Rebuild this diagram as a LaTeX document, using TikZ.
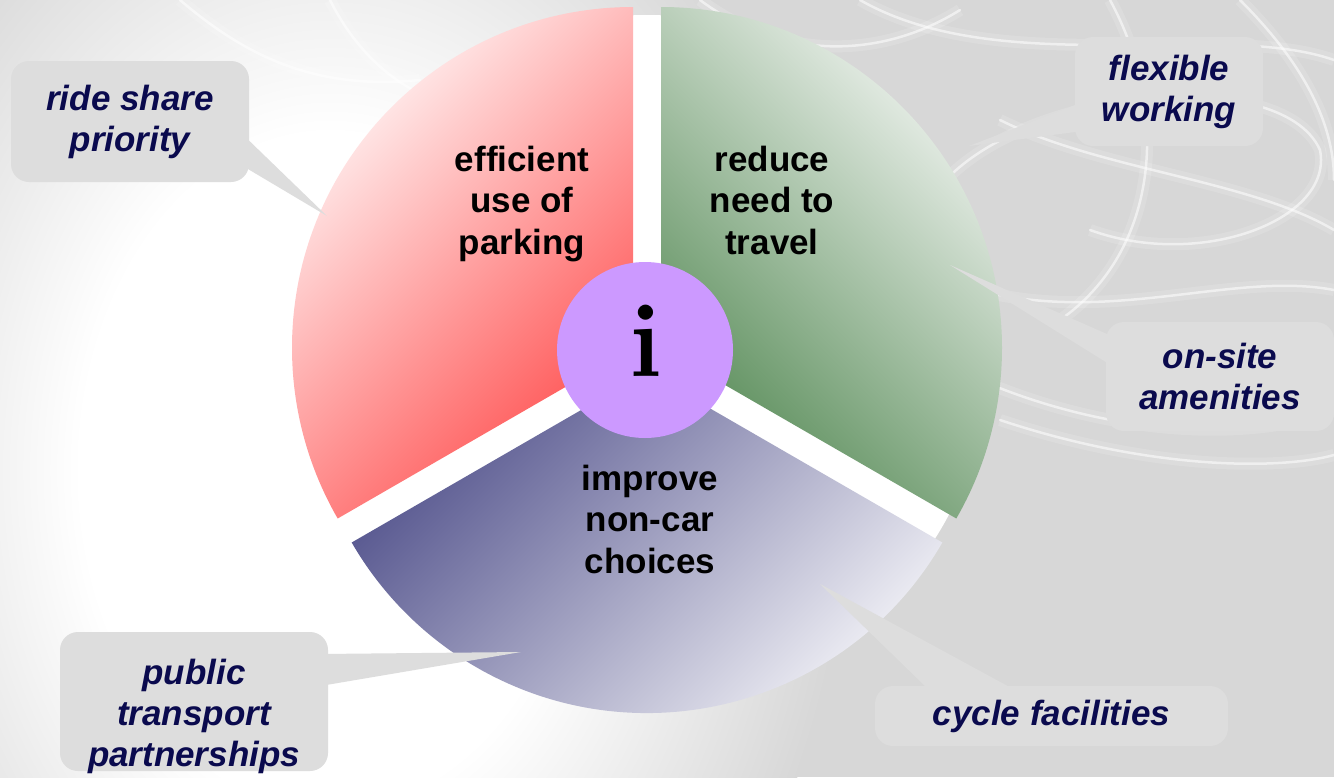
\documentclass[tikz,border=0pt]{standalone}
\usepackage{fontspec}
\setsansfont{Liberation Sans}
\usetikzlibrary{calc}

\definecolor{bggray}{HTML}{D7D7D7}
\definecolor{boxgray}{HTML}{DDDDDD}
\definecolor{navytext}{HTML}{0A0A4E}
\definecolor{hubviolet}{HTML}{CC99FF}
\definecolor{parkred}{HTML}{FF4E4E}
\definecolor{parkpale}{HTML}{FFF8F8}
\definecolor{travelgreen}{HTML}{558A55}
\definecolor{travelpale}{HTML}{F2F5F2}
\definecolor{choiceblue}{HTML}{55558E}
\definecolor{choicepale}{HTML}{F7F7FA}

\pgfdeclareradialshading{leftglow}{\pgfpoint{0bp}{0bp}}{%
  color(0bp)=(white); color(12bp)=(white); color(25bp)=(bggray); color(50bp)=(bggray)}

\newcommand*{\rpie}{341}

\begin{document}
\begin{tikzpicture}
[
	x=1pt, y=-1pt,
	slicetext/.style={align=center,font=\sffamily\bfseries\fontsize{35}{41.5}\selectfont},
	calltext/.style={align=center,text=navytext,font=\sffamily\bfseries\itshape\fontsize{35}{41}\selectfont},
	callbox/.style={calltext,fill=boxgray,rounded corners=18pt,inner sep=0pt},
	pointer/.style={fill=boxgray},
	hub/.style={circle,fill=hubviolet,inner sep=0pt,minimum size=176pt},
	streak/.style={preaction={draw=white,line width=12pt,draw opacity=0.15},
		draw=white,line width=2.5pt,draw opacity=0.55,line cap=round}
]

	% backdrop
	\useasboundingbox (0,0) rectangle (1334,777);
	\fill[bggray] (0,0) rectangle (1334,777);
	\shade[shading=leftglow] (330,470) ellipse [x radius=520, y radius=700];

	% light streaks
	\draw[streak] (860,0) .. controls (1000,80) and (1220,20) .. (1334,60);
	\draw[streak] (930,200) .. controls (1000,90) and (1280,60) .. (1320,150)
		.. controls (1334,220) and (1200,270) .. (1090,230);
	\draw[streak] (1110,0) .. controls (1170,110) and (1160,250) .. (1060,320);
	\draw[streak] (960,285) .. controls (1100,330) and (1230,270) .. (1334,290);
	\draw[streak] (980,380) .. controls (1120,440) and (1260,440) .. (1334,410);
	\draw[streak] (1000,420) .. controls (1150,470) and (1280,470) .. (1334,455);
	\draw[streak] (700,0) .. controls (780,60) and (880,60) .. (960,10);
	\draw[streak] (1240,0) .. controls (1300,60) and (1334,120) .. (1334,180);
	\draw[streak] (1000,120) .. controls (1100,170) and (1250,180) .. (1334,230);
	\draw[streak] (180,0) .. controls (250,60) and (320,90) .. (420,80);
	\draw[streak] (330,0) .. controls (360,60) and (420,120) .. (520,110);

	% white disc under the gaps
	\fill[white] (647,356) circle (\rpie);

	% pie slices
	\shade[top color=parkpale,bottom color=parkred,shading angle=45]
		(633,348) -- ++(-90:\rpie) arc[start angle=-90,end angle=-210,radius=\rpie] -- cycle;
	\shade[top color=travelpale,bottom color=travelgreen,shading angle=-45]
		(661,348) -- ++(-90:\rpie) arc[start angle=-90,end angle=30,radius=\rpie] -- cycle;
	\shade[top color=choiceblue,bottom color=choicepale,shading angle=45]
		(647,372) -- ++(30:\rpie) arc[start angle=30,end angle=150,radius=\rpie] -- cycle;

	% hub
	\node[hub] (hub) at (645,350) {};
	\node[font=\rmfamily\bfseries\fontsize{105}{105}\selectfont] (info) at (646,341) {i};

	% slice labels
	\node[slicetext] (parking) at (522,204) {efficient\\use of\\parking};
	\node[slicetext] (travel) at (772,200) {reduce\\need to\\travel};
	\node[slicetext] (choices) at (650,519) {improve\\non-car\\choices};

	% callouts
	\coordinate (rideTip) at (327,216);
	\node[callbox,minimum width=238pt,minimum height=121pt] (ride) at (130,121.5) {ride share\\priority};
	\fill[pointer] (rideTip) -- ($(ride.east |- 0,133)+(-8,0)$) -- ($(ride.east |- 0,165)+(-8,0)$) -- cycle;
	%
	\coordinate (flexTip) at (969,146);
	\node[callbox,minimum width=188pt,minimum height=109pt] (flex) at (1169,91.5) {flexible\\working};
	\fill[pointer] (flexTip) -- ($(flex.west |- 0,102)+(8,0)$) -- ($(flex.west |- 0,131)+(8,0)$) -- cycle;
	%
	\coordinate (siteTip) at (950,265);
	\node[callbox,minimum width=228pt,minimum height=109pt] (site) at (1220,376.5) {on-site\\amenities};
	\fill[pointer] (siteTip) -- ($(site.west |- 0,337)+(8,0)$) -- ($(site.west |- 0,367)+(8,0)$) -- cycle;
	%
	\coordinate (pubTip) at (521,652);
	\node[callbox,minimum width=268pt,minimum height=139pt] (pub) at (194,701.5) {};
	\node[calltext] (pubtext) at (194,716) {public\\transport\\partnerships};
	\fill[pointer] (pubTip) -- ($(pub.east |- 0,654)+(-8,0)$) -- ($(pub.east |- 0,686)+(-8,0)$) -- cycle;
	%
	\coordinate (cycleTip) at (820,584);
	\node[callbox,minimum width=353pt,minimum height=60pt] (cycle) at (1051.5,716) {cycle facilities};
	\fill[pointer] (cycleTip) -- ($(933,0 |- cycle.north)+(0,8)$) -- ($(1022,0 |- cycle.north)+(0,8)$) -- cycle;

\end{tikzpicture}
\end{document}
